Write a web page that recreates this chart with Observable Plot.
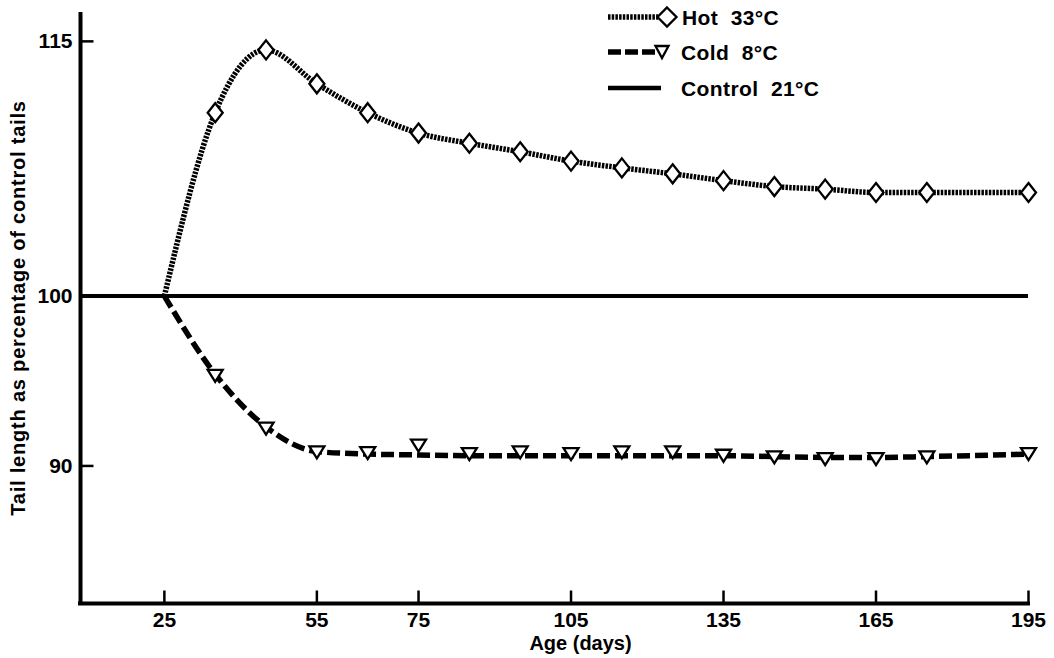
<!DOCTYPE html>
<html><head><meta charset="utf-8">
<script src="https://cdn.jsdelivr.net/npm/d3@7"></script>
<script src="https://cdn.jsdelivr.net/npm/@observablehq/plot@0.6"></script>
<style>
html,body{margin:0;padding:0;background:#fff;}
#wrap{position:relative;width:1054px;height:658px;}
</style></head><body><div id="wrap"></div>
<script>
// ---- data ----
const startDay = 25;
const startValue = 100;
const controlValue = 100;
const hotDays = [35,45,55,65,75,85,95,105,115,125,135,145,155,165,175,195];
const hotValues = [110.8,114.5,112.5,110.8,109.6,109.0,108.5,107.95,107.55,107.2,106.8,106.45,106.3,106.1,106.1,106.1];
const coldDays = [35,45,55,65,75,85,95,105,115,125,135,145,155,165,175,195];
const coldValues = [95.3,92.2,90.8,90.75,91.2,90.7,90.8,90.7,90.8,90.8,90.6,90.5,90.4,90.4,90.5,90.7];
const coldCurveValues = [95.4,92.3,90.85,90.7,90.65,90.6,90.6,90.6,90.6,90.6,90.6,90.55,90.5,90.5,90.55,90.7];
const xTicks = [25,55,75,105,135,165,195];
const yTicks = [90,100,115];
const xLabel = "Age (days)";
const yLabel = "Tail length as percentage of control tails";
const legendLabels = ["Hot  33°C","Cold  8°C","Control  21°C"];

// ---- derived tables ----
const hot = hotDays.map((d,i)=>({day:d,value:hotValues[i]}));
const cold = coldDays.map((d,i)=>({day:d,value:coldValues[i]}));
const hotLine = [{day:startDay,value:startValue}, ...hot];
const coldLine = [{day:startDay,value:startValue}, ...coldDays.map((d,i)=>({day:d,value:coldCurveValues[i]}))];

const xDomain = [8.5,195];
const yDomain = [81.9,116.7];
const font = '"Liberation Sans", Arial, Helvetica, sans-serif';

const yTickMark = {draw(c){c.moveTo(0,0);c.lineTo(13,0);}};
const xTickMark = {draw(c){c.moveTo(0,0);c.lineTo(0,-13);}};
const diamond = {draw(c){c.moveTo(0,-9.5);c.lineTo(7.5,0);c.lineTo(0,9.5);c.lineTo(-7.5,0);c.closePath();}};
const triDown = {draw(c){c.moveTo(-7.5,-6);c.lineTo(7.5,-6);c.lineTo(0,6);c.closePath();}};

const chart = Plot.plot({
  width:1054, height:658,
  marginLeft:80, marginRight:26, marginTop:12, marginBottom:55,
  style:{fontFamily:font, fontSize:"21px", fontWeight:"bold", color:"#000", background:"#fff"},
  x:{domain:xDomain},
  y:{domain:yDomain},
  marks:[
    Plot.axisX({ticks:xTicks, tickSize:0, tickPadding:9, label:null}),
    Plot.axisY({ticks:yTicks, tickSize:0, tickPadding:8, label:null}),
    Plot.dot(yTicks, {x:()=>xDomain[0], y:d=>d, symbol:yTickMark, fill:"none", stroke:"#000", strokeWidth:2.5}),
    Plot.dot(xTicks, {x:d=>d, y:()=>yDomain[0], symbol:xTickMark, fill:"none", stroke:"#000", strokeWidth:2.5}),
    Plot.ruleX([xDomain[0]], {stroke:"#000", strokeWidth:4}),
    Plot.ruleY([yDomain[0]], {stroke:"#000", strokeWidth:4, strokeLinecap:"square"}),
    Plot.ruleY([controlValue], {stroke:"#000", strokeWidth:4}),
    Plot.line(hotLine, {x:"day", y:"value", curve:"monotone-x", stroke:"#000", strokeWidth:5.5, strokeDasharray:"2.5,1.2", strokeLinecap:"butt", strokeLinejoin:"miter"}),
    Plot.line(coldLine, {x:"day", y:"value", curve:"monotone-x", stroke:"#000", strokeWidth:5.5, strokeDasharray:"13,5", strokeLinecap:"butt", strokeLinejoin:"miter"}),
    Plot.dot(hot, {x:"day", y:"value", symbol:diamond, fill:"#fff", stroke:"#000", strokeWidth:2.3}),
    Plot.dot(cold, {x:"day", y:"value", symbol:triDown, fill:"#fff", stroke:"#000", strokeWidth:2.3}),
    Plot.text([xLabel], {frameAnchor:"bottom", lineAnchor:"middle", textAnchor:"middle", dx:26, dy:40, fill:"#000"}),
    Plot.text([yLabel], {frameAnchor:"left", lineAnchor:"middle", textAnchor:"middle", rotate:-90, dx:-62, fill:"#000"})
  ]
});
d3.select(chart).selectAll("text").style("font-size","21px").style("font-weight","bold").style("font-family",font);
d3.select(chart).selectAll("text").filter(function(){return this.textContent.startsWith("Tail");}).style("font-size","20px").style("letter-spacing","0.8px");
d3.select(chart).selectAll("text").filter(function(){return this.textContent.startsWith("Age");}).style("font-size","20px");
document.getElementById("wrap").appendChild(chart);

// ---- legend overlay ----
const lg = d3.select("#wrap").append("svg")
  .attr("width",1054).attr("height",110)
  .style("position","absolute").style("left","0px").style("top","0px");
const rows = [17,52,88];
// hot
lg.append("line").attr("x1",608).attr("x2",658).attr("y1",rows[0]).attr("y2",rows[0])
  .attr("stroke","#000").attr("stroke-width",5.5).attr("stroke-dasharray","2.5,1.2");
lg.append("path").attr("d","M0,-9.5L9.5,0L0,9.5L-9.5,0Z").attr("transform",`translate(667,${rows[0]})`)
  .attr("fill","#fff").attr("stroke","#000").attr("stroke-width",2.3);
// cold
lg.append("line").attr("x1",608).attr("x2",656).attr("y1",rows[1]).attr("y2",rows[1])
  .attr("stroke","#000").attr("stroke-width",5.5).attr("stroke-dasharray","13,4");
lg.append("path").attr("d","M-6.5,-6L6.5,-6L0,6Z").attr("transform",`translate(662,${rows[1]})`)
  .attr("fill","#fff").attr("stroke","#000").attr("stroke-width",2.3);
// control
lg.append("line").attr("x1",608).attr("x2",661).attr("y1",rows[2]).attr("y2",rows[2])
  .attr("stroke","#000").attr("stroke-width",4.5);
lg.selectAll("text.lab").data(legendLabels).join("text")
  .attr("x",(d,i)=> i===0 ? 682 : 681).attr("y",(d,i)=>rows[i])
  .attr("dy","0.36em")
  .style("white-space","pre").style("letter-spacing","0.4px")
  .attr("font-family",font).attr("font-size",21).attr("font-weight","bold").attr("fill","#000")
  .text(d=>d);
</script></body></html>
